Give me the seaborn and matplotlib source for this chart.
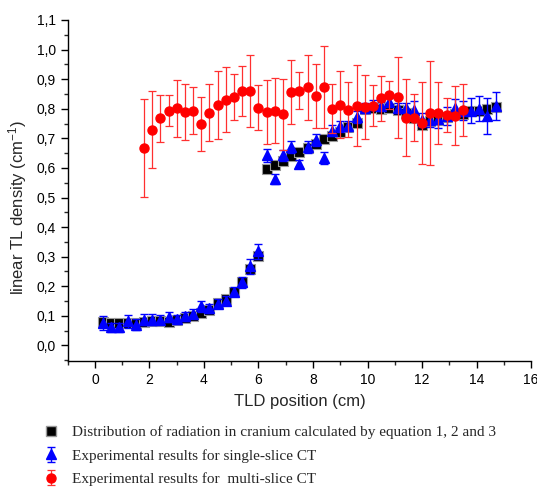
"""Linear TL density along the cranium: calculated vs single-/multi-slice CT."""
import matplotlib
matplotlib.use("Agg")
import matplotlib.pyplot as plt
from matplotlib.lines import Line2D
from matplotlib.ticker import MultipleLocator, FuncFormatter
import numpy as np
import pandas as pd
import seaborn as sns

# --- data --------------------------------------------------------------
pos_all = [0.3, 0.6, 0.9, 1.2, 1.5, 1.8, 2.1, 2.4, 2.7, 3.0,
           3.3, 3.6, 3.9, 4.2, 4.5, 4.8, 5.1, 5.4, 5.7, 6.0,
           6.3, 6.6, 6.9, 7.2, 7.5, 7.8, 8.1, 8.4, 8.7, 9.0,
           9.3, 9.6, 9.9, 10.2, 10.5, 10.8, 11.1, 11.4, 11.7, 12.0,
           12.3, 12.6, 12.9, 13.2, 13.5, 13.8, 14.1, 14.4, 14.7]

calc = [0.081, 0.076, 0.076, 0.076, 0.076, 0.081, 0.083, 0.083, 0.081, 0.087,
        0.093, 0.101, 0.109, 0.121, 0.145, 0.157, 0.182, 0.213, 0.258, 0.303,
        0.598, 0.611, 0.625, 0.639, 0.653, 0.667, 0.680, 0.698, 0.709, 0.723,
        0.738, 0.751, 0.799, 0.802, 0.800, 0.802, 0.796, 0.785, 0.768, 0.746,
        0.757, 0.762, 0.772, 0.783, 0.783, 0.791, 0.794, 0.799, 0.805]

single = [0.076, 0.062, 0.062, 0.082, 0.070, 0.087, 0.087, 0.087, 0.096, 0.089,
          0.098, 0.107, 0.132, 0.126, 0.141, 0.151, 0.182, 0.213, 0.267, 0.318,
          0.642, 0.563, 0.642, 0.672, 0.614, 0.672, 0.695, 0.633, 0.726, 0.740,
          0.742, 0.772, 0.802, 0.813, 0.808, 0.824, 0.802, 0.802, 0.796, 0.762,
          0.762, 0.765, 0.776, 0.802, 0.794, 0.793, 0.800, 0.774, 0.810]
single_err = [0.025, 0.015, 0.015, 0.022, 0.018, 0.018, 0.018, 0.015, 0.018, 0.015,
              0.015, 0.015, 0.018, 0.015, 0.015, 0.015, 0.015, 0.018, 0.025, 0.025,
              0.021, 0.018, 0.020, 0.020, 0.012, 0.020, 0.020, 0.020, 0.018, 0.018,
              0.018, 0.020, 0.018, 0.018, 0.015, 0.012, 0.017, 0.017, 0.030, 0.023,
              0.023, 0.029, 0.030, 0.032, 0.031, 0.042, 0.042, 0.061, 0.048]

pos_multi = [1.8, 2.1, 2.4, 2.7, 3.0, 3.3, 3.6, 3.9, 4.2, 4.5,
             4.8, 5.1, 5.4, 5.7, 6.0, 6.3, 6.6, 6.9, 7.2, 7.5,
             7.8, 8.1, 8.4, 8.7, 9.0, 9.3, 9.6, 9.9, 10.2, 10.5,
             10.8, 11.1, 11.4, 11.7, 12.0, 12.3, 12.6, 12.9, 13.2, 13.5]
multi = [0.667, 0.729, 0.768, 0.793, 0.801, 0.790, 0.793, 0.748, 0.787, 0.814,
         0.831, 0.839, 0.860, 0.861, 0.804, 0.789, 0.793, 0.782, 0.857, 0.861,
         0.873, 0.843, 0.873, 0.800, 0.814, 0.797, 0.810, 0.805, 0.810, 0.835,
         0.847, 0.839, 0.770, 0.770, 0.751, 0.785, 0.787, 0.779, 0.777, 0.796]
multi_err = [0.165, 0.130, 0.079, 0.053, 0.095, 0.095, 0.080, 0.090, 0.095, 0.115,
             0.110, 0.077, 0.084, 0.122, 0.076, 0.108, 0.110, 0.120, 0.109, 0.062,
             0.110, 0.108, 0.139, 0.083, 0.113, 0.094, 0.137, 0.108, 0.070, 0.077,
             0.047, 0.137, 0.131, 0.079, 0.138, 0.175, 0.105, 0.058, 0.101, 0.089]

labels = [
    "Distribution of radiation in cranium calculated by equation 1, 2 and 3",
    "Experimental results for single-slice CT",
    "Experimental results for  multi-slice CT",
]

sns.set_theme(style="ticks")
plt.rcParams["font.family"] = ["Liberation Sans", "DejaVu Sans"]
plt.rcParams["mathtext.default"] = "regular"

fig = plt.figure(figsize=(5.37, 4.87), dpi=100)
ax = fig.add_axes([0.126, 0.259, 0.863, 0.700])

df_calc = pd.DataFrame({"pos": pos_all, "val": calc})
sns.scatterplot(data=df_calc, x="pos", y="val", marker="s", s=48, color="black",
                edgecolor="#9a9a9a", linewidth=0.8, ax=ax, zorder=3, legend=False)

eb_single = ax.errorbar(pos_all, single, yerr=single_err, fmt="^", color="blue",
                        ms=7.5, mec="blue", ecolor="blue", elinewidth=1.0,
                        capsize=3, capthick=1.0, zorder=4)
eb_multi = ax.errorbar(pos_multi, multi, yerr=multi_err, fmt="o", color="red",
                       ms=6.5, mec="red", ecolor="#ff3030", elinewidth=0.9,
                       capsize=3, capthick=0.9, zorder=5)

ax.set_xlim(-1, 16)
ax.set_ylim(-0.052, 1.1)
ax.xaxis.set_major_locator(MultipleLocator(2))
ax.xaxis.set_minor_locator(MultipleLocator(1))
ax.yaxis.set_major_locator(MultipleLocator(0.1))
ax.yaxis.set_minor_locator(MultipleLocator(0.05))
ax.yaxis.set_major_formatter(FuncFormatter(lambda v, _: f"{v:.1f}".replace(".", ",")))
ax.tick_params(which="major", direction="out", length=5, width=1, labelsize=10,
               colors="black")
ax.tick_params(which="minor", direction="out", length=3, width=1)
for side in ("top", "right"):
    ax.spines[side].set_visible(False)
for side in ("left", "bottom"):
    ax.spines[side].set_color("black")
    ax.spines[side].set_linewidth(1)

ax.set_xlabel("TLD position (cm)", fontsize=12, labelpad=5)
ax.set_ylabel("linear TL density (cm$^{-1}$)", fontsize=12)
ax.yaxis.set_label_coords(-0.083, 0.449)

handles = [
    Line2D([], [], marker="s", ls="none", color="black", mec="#9a9a9a", ms=6.5),
    eb_single,
    eb_multi,
]
fig.legend(handles, labels, loc="upper left", bbox_to_anchor=(0.072, 0.139),
           frameon=False, handlelength=0.8, handletextpad=1.0, labelspacing=0.63,
           borderaxespad=0, prop={"family": ["Liberation Serif"], "size": 11})

fig.savefig("out.png", dpi=100)
plt.close(fig)
